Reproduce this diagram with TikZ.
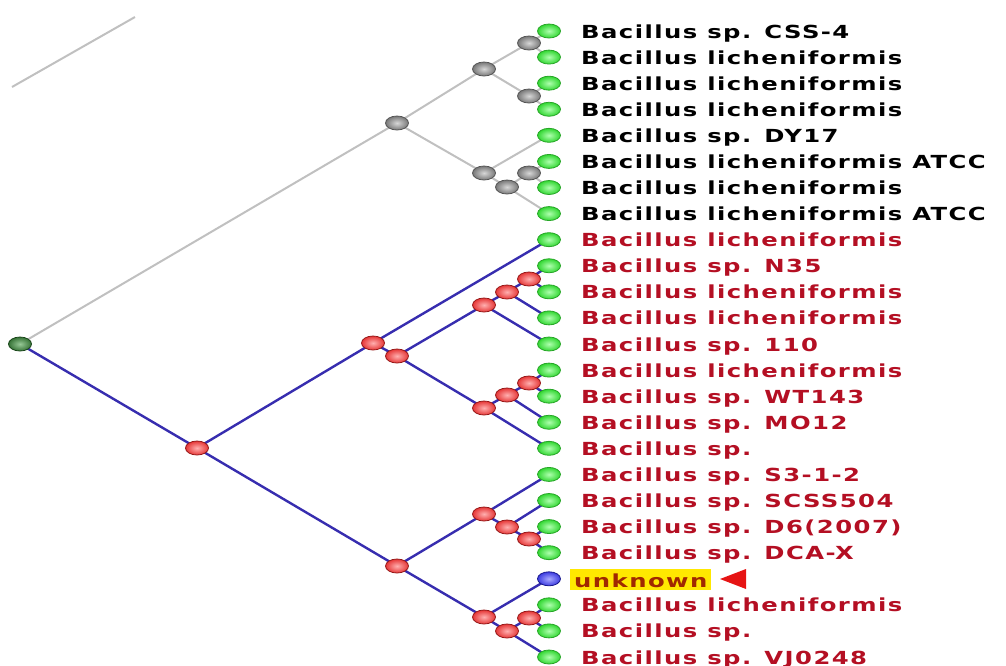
\documentclass[tikz,border=0pt]{standalone}
\usepackage{fontspec}
\newfontfamily\labfont[FakeStretch=1.35,LetterSpace=8]{DejaVu Sans}
\usetikzlibrary{shapes.geometric}
\pgfdeclarelayer{bg}
\pgfsetlayers{bg,main}
\definecolor{leafgreen}{RGB}{50,215,50}
\definecolor{leafgreenhi}{RGB}{175,255,175}
\definecolor{leafgreenbd}{RGB}{40,165,40}
\definecolor{gnode}{RGB}{120,120,120}
\definecolor{gnodehi}{RGB}{215,215,215}
\definecolor{gnodebd}{RGB}{85,85,85}
\definecolor{rnode}{RGB}{230,55,55}
\definecolor{rnodehi}{RGB}{255,175,175}
\definecolor{rnodebd}{RGB}{150,25,25}
\definecolor{rootc}{RGB}{55,115,55}
\definecolor{rootchi}{RGB}{150,200,150}
\definecolor{rootbd}{RGB}{25,70,25}
\definecolor{unkc}{RGB}{60,60,225}
\definecolor{unkchi}{RGB}{170,170,255}
\definecolor{unkbd}{RGB}{25,25,140}
\definecolor{blueedge}{RGB}{55,45,175}
\definecolor{grayedge}{RGB}{192,192,192}
\definecolor{labred}{RGB}{180,15,35}
\definecolor{unkbg}{RGB}{255,232,0}
\definecolor{unktext}{RGB}{160,40,0}
\definecolor{markred}{RGB}{230,20,20}
\tikzset{
  nd/.style={ellipse, minimum width=23pt, minimum height=14pt, inner sep=0pt, line width=0.8pt},
  leafnd/.style={nd, draw=leafgreenbd, inner color=leafgreenhi, outer color=leafgreen},
  gint/.style={nd, draw=gnodebd, inner color=gnodehi, outer color=gnode},
  rint/.style={nd, draw=rnodebd, inner color=rnodehi, outer color=rnode},
  rootnd/.style={nd, draw=rootbd, inner color=rootchi, outer color=rootc},
  unknd/.style={nd, draw=unkbd, inner color=unkchi, outer color=unkc},
  gedge/.style={draw=grayedge, line width=2pt},
  bedge/.style={draw=blueedge, line width=2.4pt},
  lab/.style={anchor=base west, inner sep=0pt, font=\labfont\bfseries\fontsize{18}{20}\selectfont},
  blab/.style={lab, text=black},
  rlab/.style={lab, text=labred},
  unklab/.style={lab, text=unktext, fill=unkbg, text height=16pt, text depth=1pt, inner ysep=2pt, inner xsep=2pt}
}
\begin{document}
\begin{tikzpicture}[x=1pt,y=-1pt]
\useasboundingbox (0,0) rectangle (1006,665);

% leaves and labels
\foreach \i/\t/\s in {
  1/Bacillus sp. CSS-4/blab,
  2/Bacillus licheniformis/blab,
  3/Bacillus licheniformis/blab,
  4/Bacillus licheniformis/blab,
  5/Bacillus sp. DY17/blab,
  6/Bacillus licheniformis ATCC/blab,
  7/Bacillus licheniformis/blab,
  8/Bacillus licheniformis ATCC/blab,
  9/Bacillus licheniformis/rlab,
  10/Bacillus sp. N35/rlab,
  11/Bacillus licheniformis/rlab,
  12/Bacillus licheniformis/rlab,
  13/Bacillus sp. 110/rlab,
  14/Bacillus licheniformis/rlab,
  15/Bacillus sp. WT143/rlab,
  16/Bacillus sp. MO12/rlab,
  17/Bacillus sp./rlab,
  18/Bacillus sp. S3-1-2/rlab,
  19/Bacillus sp. SCSS504/rlab,
  20/Bacillus sp. D6(2007)/rlab,
  21/Bacillus sp. DCA-X/rlab,
  23/Bacillus licheniformis/rlab,
  24/Bacillus sp./rlab,
  25/Bacillus sp. VJ0248/rlab}{
  \pgfmathsetmacro\yy{31+26.083*(\i-1)}
  \node[leafnd] (L\i) at (549,\yy) {};
  \node[style=\s] (T\i) at (581,\yy+7) {\t};
}
\node[unknd] (L22) at (549,578.8) {};
\node[unklab, inner xsep=4pt] (T22) at (570,587) {unknown};
\fill[markred] (720,579) -- (746,569) -- (746,589) -- cycle;

% root
\node[rootnd] (root) at (20,344) {};

% gray clade
\node[gint] (G0) at (397,123) {};
\node[gint] (G1) at (484,69) {};
\node[gint] (G2) at (529,43) {};
\node[gint] (G3) at (529,96) {};
\node[gint] (G6) at (507,187) {};
\node[gint] (G5) at (529,173) {};
\node[gint] (G4) at (484,173) {};

% red clade
\node[rint] (R0) at (197,448) {};
\node[rint] (Ra) at (373,343) {};
\node[rint] (Rb) at (397,356) {};
\node[rint] (Rc) at (484,305) {};
\node[rint] (Rd) at (507,292) {};
\node[rint] (Re) at (529,279) {};
\node[rint] (Rf) at (484,408) {};
\node[rint] (Rg) at (507,395) {};
\node[rint] (Rh) at (529,383) {};
\node[rint] (Rbot) at (397,566) {};
\node[rint] (Ri) at (484,514) {};
\node[rint] (Rj) at (507,527) {};
\node[rint] (Rk) at (529,539) {};
\node[rint] (Rl) at (484,617) {};
\node[rint] (Rm) at (529,618) {};
\node[rint] (Rn) at (507,631) {};

\coordinate (tlA) at (12,87);
\coordinate (tlB) at (135,17);

\begin{pgfonlayer}{bg}
\draw[gedge] (tlA) -- (tlB);
\draw[gedge] (root.center) -- (G0.center);
\foreach \a/\b in {G0/G1,G0/G4,G1/G2,G1/G3,G2/L1,G2/L2,G3/L3,G3/L4,G4/L5,G4/G6,G6/G5,G6/L8,G5/L6,G5/L7}
  \draw[gedge] (\a.center) -- (\b.center);
\foreach \a/\b in {root/R0,R0/Ra,R0/Rbot,Ra/L9,Ra/Rb,Rb/Rc,Rb/Rf,Rc/Rd,Rc/L13,Rd/Re,Rd/L12,Re/L10,Re/L11,Rf/Rg,Rf/L17,Rg/Rh,Rg/L16,Rh/L14,Rh/L15,Rbot/Ri,Rbot/Rl,Ri/L18,Ri/Rj,Rj/L19,Rj/Rk,Rk/L20,Rk/L21,Rl/L22,Rl/Rn,Rn/Rm,Rn/L25,Rm/L23,Rm/L24}
  \draw[bedge] (\a.center) -- (\b.center);
\end{pgfonlayer}
\end{tikzpicture}
\end{document}
